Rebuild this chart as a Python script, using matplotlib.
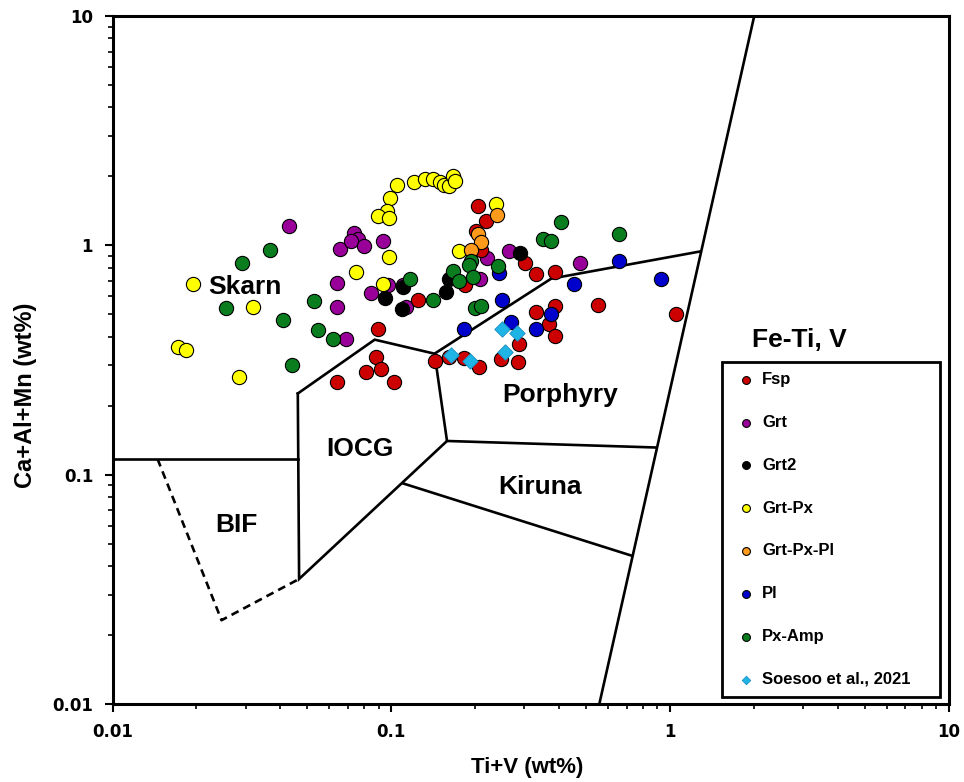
import numpy as np
import matplotlib
matplotlib.use('Agg')
import matplotlib.pyplot as plt
from matplotlib.ticker import FixedLocator, FuncFormatter, LogLocator, NullFormatter

# Ti+V (x) and Ca+Al+Mn (y), wt%
fsp_x = [0.205, 0.219, 0.202, 0.21, 0.184, 0.301, 0.331, 0.388, 0.554, 1.05, 0.331, 0.388, 0.367, 0.388,
         0.287, 0.285, 0.248, 0.207, 0.182, 0.161, 0.143, 0.125, 0.0898, 0.0884, 0.0922, 0.0814, 0.0641, 0.102]
fsp_y = [1.48, 1.28, 1.15, 0.951, 0.674, 0.837, 0.751, 0.767, 0.552, 0.504, 0.512, 0.542, 0.453, 0.403,
         0.370, 0.311, 0.321, 0.295, 0.323, 0.327, 0.312, 0.579, 0.432, 0.327, 0.290, 0.281, 0.254, 0.254]
grt_x = [0.0429, 0.0653, 0.0733, 0.0760, 0.0719, 0.0799, 0.0934, 0.0639, 0.0639, 0.0686, 0.0849, 0.0973,
         0.110, 0.113, 0.264, 0.220, 0.209, 0.474]
grt_y = [1.22, 0.964, 1.13, 1.07, 1.04, 0.990, 1.05, 0.688, 0.541, 0.390, 0.622, 0.669,
         0.669, 0.537, 0.942, 0.881, 0.713, 0.839]
grt2_x = [0.0951, 0.110, 0.109, 0.157, 0.161, 0.289]
grt2_y = [0.591, 0.658, 0.530, 0.624, 0.716, 0.930]
grtpx_x = [0.0195, 0.0318, 0.0172, 0.0183, 0.0284, 0.0746, 0.0979, 0.0935, 0.105, 0.121, 0.132, 0.141,
           0.149, 0.155, 0.161, 0.166, 0.170, 0.0987, 0.0965, 0.0896, 0.0981, 0.175, 0.238]
grtpx_y = [0.68, 0.54, 0.36, 0.351, 0.267, 0.768, 0.891, 0.676, 1.84, 1.88, 1.95, 1.94,
           1.89, 1.84, 1.81, 2.0, 1.91, 1.61, 1.41, 1.34, 1.32, 0.942, 1.51]
grtpxpl_x = [0.239, 0.205, 0.21, 0.193]
grtpxpl_y = [1.36, 1.12, 1.03, 0.954]
pl_x = [0.243, 0.25, 0.183, 0.269, 0.373, 0.331, 0.454, 0.656, 0.928]
pl_y = [0.759, 0.58, 0.434, 0.463, 0.504, 0.434, 0.68, 0.852, 0.716]
pxamp_x = [0.0367, 0.0292, 0.0256, 0.0409, 0.0528, 0.0546, 0.0619, 0.0442, 0.117, 0.141, 0.166, 0.175,
           0.405, 0.35, 0.373, 0.193, 0.19, 0.196, 0.242, 0.199, 0.21, 0.655]
pxamp_y = [0.958, 0.837, 0.533, 0.475, 0.572, 0.426, 0.391, 0.302, 0.716, 0.58, 0.77, 0.7,
           1.26, 1.07, 1.04, 0.852, 0.818, 0.725, 0.81, 0.531, 0.545, 1.12]
soe_x = [0.25, 0.282, 0.256, 0.164, 0.192]
soe_y = [0.43, 0.415, 0.343, 0.333, 0.314]

# discrimination field boundaries (x, y pairs)
bif_top = [(0.01, 0.117), (0.0462, 0.117)]
iocg_left = [(0.0462, 0.226), (0.0467, 0.0351), (0.1585, 0.1403)]
iocg_top = [(0.0462, 0.226), (0.0872, 0.388), (0.143, 0.337), (0.1585, 0.1403), (0.891, 0.1314)]
porphyry_top = [(0.143, 0.337), (0.375, 0.716), (1.28, 0.94)]
kiruna_low = [(0.1103, 0.0916), (0.731, 0.0443)]
feti_line = [(0.558, 0.01), (2.007, 10)]
bif_dashed = [(0.0145, 0.117), (0.0246, 0.0232), (0.0467, 0.0351)]

fields = ['Skarn', 'IOCG', 'BIF', 'Porphyry', 'Kiruna', 'Fe-Ti, V']
field_x = [0.0298, 0.0771, 0.0279, 0.405, 0.343, 2.91]
field_y = [0.656, 0.129, 0.0603, 0.222, 0.0883, 0.386]

groups = [
    ('Fsp', fsp_x, fsp_y, '#CC0000', 'o', 3),
    ('Grt', grt_x, grt_y, '#990099', 'o', 2),
    ('Grt2', grt2_x, grt2_y, 'black', 'o', 4),
    ('Grt-Px', grtpx_x, grtpx_y, '#FFFF00', 'o', 4),
    ('Grt-Px-Pl', grtpxpl_x, grtpxpl_y, '#FF9A1A', 'o', 5),
    ('Pl', pl_x, pl_y, '#0000CC', 'o', 5),
    ('Px-Amp', pxamp_x, pxamp_y, '#0A7D1E', 'o', 6),
    ('Soesoo et al., 2021', soe_x, soe_y, '#1FB4E6', 'D', 7),
]


def main():
    fig = plt.figure(figsize=(9.64, 7.82), dpi=100)
    ax = fig.add_axes([0.1168, 0.0997, 0.8672, 0.8798])
    ax.set_xscale('log')
    ax.set_yscale('log')
    ax.set_xlim(0.01, 10)
    ax.set_ylim(0.01, 10)

    for line in [bif_top, iocg_left, iocg_top, porphyry_top, kiruna_low, feti_line]:
        xs, ys = zip(*line)
        ax.plot(xs, ys, color='black', lw=1.9, solid_joinstyle='miter', zorder=1)
    xs, ys = zip(*bif_dashed)
    ax.plot(xs, ys, color='black', lw=1.9, ls=(0, (3, 2)), zorder=1)

    for label, x, y, c, m, z in groups:
        if m == 'D':
            ax.scatter(x, y, s=62, marker='D', color=c, edgecolors='#1a8fc0', linewidths=0.6, zorder=z, label=label)
        else:
            ax.scatter(x, y, s=105, marker='o', color=c, edgecolors='black', linewidths=0.8, zorder=z, label=label)

    for t, x, y in zip(fields, field_x, field_y):
        ax.text(x, y, t, ha='center', va='center', fontsize=19, fontweight='bold',
                family='Liberation Sans', zorder=8)

    for s in ax.spines.values():
        s.set_linewidth(2.2)
    ax.xaxis.set_major_locator(FixedLocator([0.01, 0.1, 1, 10]))
    ax.yaxis.set_major_locator(FixedLocator([0.01, 0.1, 1, 10]))
    ax.xaxis.set_minor_locator(LogLocator(base=10, subs=np.arange(2, 10)))
    ax.yaxis.set_minor_locator(LogLocator(base=10, subs=np.arange(2, 10)))
    fmt = FuncFormatter(lambda v, p: '%g' % v)
    ax.xaxis.set_major_formatter(fmt)
    ax.yaxis.set_major_formatter(fmt)
    ax.xaxis.set_minor_formatter(NullFormatter())
    ax.yaxis.set_minor_formatter(NullFormatter())
    ax.tick_params(which='major', direction='out', length=6, width=1.5, pad=8, labelsize=12)
    ax.tick_params(which='minor', direction='out', length=3.6, width=1.2)
    ax.tick_params(top=False, right=False, which='both')
    for lab in ax.get_xticklabels() + ax.get_yticklabels():
        lab.set_fontweight('bold')

    ax.set_xlabel('Ti+V (wt%)', fontsize=16, fontweight='bold', family='Liberation Sans')
    ax.set_ylabel('Ca+Al+Mn (wt%)', fontsize=17, fontweight='bold', family='Liberation Sans')
    ax.xaxis.set_label_coords(0.496, -0.077)
    ax.yaxis.set_label_coords(-0.090, 0.449)

    leg = ax.legend(loc='upper left', bbox_to_anchor=(0.729, 0.497, 0.261, 0.0), mode='expand',
                    borderaxespad=0, fancybox=False, framealpha=1, edgecolor='black',
                    markerscale=0.55, labelspacing=1.67, borderpad=0.6, handlelength=1.7,
                    handletextpad=0.1, prop={'family': 'Liberation Sans', 'weight': 'bold', 'size': 12})
    leg.get_frame().set_linewidth(2.0)
    leg.set_zorder(10)

    fig.savefig('out.png', dpi=100)
    plt.close(fig)


if __name__ == "__main__":
    main()
